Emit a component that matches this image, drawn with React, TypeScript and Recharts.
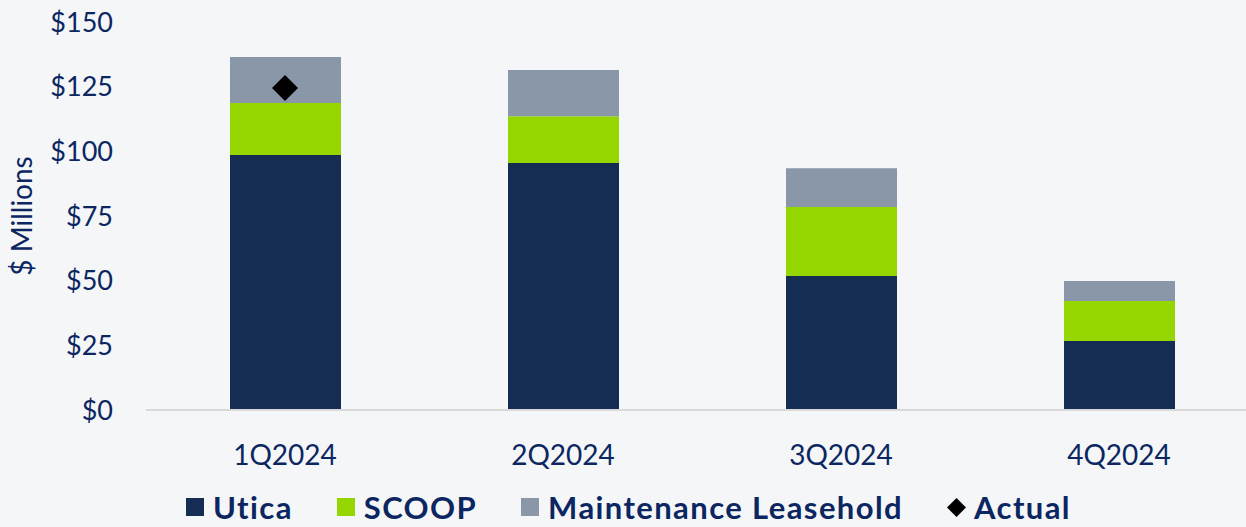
import React from 'react';
import { ComposedChart, Bar, Scatter, XAxis, YAxis, Legend, Label } from 'recharts';

const categories = ['1Q2024', '2Q2024', '3Q2024', '4Q2024'];
const utica = [98.6, 95.5, 51.8, 26.7];
const scoop = [20.1, 18.1, 26.7, 15.4];
const maintenance = [17.8, 17.8, 15.0, 7.8];
const actual: (number | null)[] = [124.5, null, null, null];
const yTicks = [0, 25, 50, 75, 100, 125, 150];

const TEXT = '#0b2660';
const FONT = 'Lato, "Open Sans", sans-serif';
const COLORS = { utica: '#152d52', scoop: '#95d600', maintenance: '#8a97a8', actual: '#000000' };

const legendItems = [
  { key: 'utica', label: 'Utica', color: COLORS.utica, shape: 'square' },
  { key: 'scoop', label: 'SCOOP', color: COLORS.scoop, shape: 'square' },
  { key: 'maintenance', label: 'Maintenance Leasehold', color: COLORS.maintenance, shape: 'square' },
  { key: 'actual', label: 'Actual', color: COLORS.actual, shape: 'diamond' },
];

const data = categories.map((c, i) => ({
  name: c,
  utica: utica[i],
  scoop: scoop[i],
  maintenance: maintenance[i],
  actual: actual[i],
}));

const Diamond = (props: any) => {
  const { cx, cy } = props;
  if (cx == null || cy == null || props.payload?.actual == null) return null;
  const r = 13;
  return <polygon points={`${cx},${cy - r} ${cx + r},${cy} ${cx},${cy + r} ${cx - r},${cy}`} fill={COLORS.actual} />;
};

const LegendContent = () => (
  <div style={{ display: 'flex', alignItems: 'center', paddingLeft: 186, fontFamily: FONT, fontWeight: 700, fontSize: 31, letterSpacing: 1.4, color: TEXT, lineHeight: '32px' }}>
    {legendItems.map((it) => (
      <div key={it.key} style={{ display: 'flex', alignItems: 'center', marginRight: 44 }}>
        {it.shape === 'square' ? (
          <div style={{ width: 18, height: 18, background: it.color, marginRight: 9 }} />
        ) : (
          <svg width={19} height={19} style={{ marginRight: 8 }}>
            <polygon points="9.5,0 19,9.5 9.5,19 0,9.5" fill={it.color} />
          </svg>
        )}
        <span>{it.label}</span>
      </div>
    ))}
  </div>
);

export default function App() {
  return (
    <div style={{ position: 'fixed', top: 0, left: 0, width: 1246, height: 527, overflow: 'hidden', background: '#f4f6f8' }}>
      <ComposedChart width={1258} height={527} data={data} margin={{ top: 22, right: 0, left: 0, bottom: 57 }}>
        <XAxis
          dataKey="name"
          height={60}
          axisLine={{ stroke: '#d9d9d9', strokeWidth: 2 }}
          tickLine={false}
          tickSize={0}
          tickMargin={35}
          tick={{ fill: TEXT, fontSize: 28, fontFamily: FONT }}
        />
        <YAxis
          width={146}
          domain={[0, 150]}
          ticks={yTicks}
          axisLine={false}
          tickLine={false}
          tickSize={0}
          tickMargin={33}
          tickFormatter={(v: number) => `$${v}`}
          tick={{ fill: TEXT, fontSize: 27, fontFamily: FONT }}
        >
          <Label value="$ Millions" angle={-90} position="insideLeft" offset={22} style={{ fill: TEXT, fontSize: 28, fontFamily: FONT, textAnchor: 'middle' }} />
        </YAxis>
        <Bar dataKey="utica" stackId="a" fill={COLORS.utica} barSize={111} isAnimationActive={false} />
        <Bar dataKey="scoop" stackId="a" fill={COLORS.scoop} barSize={111} isAnimationActive={false} />
        <Bar dataKey="maintenance" stackId="a" fill={COLORS.maintenance} barSize={111} isAnimationActive={false} />
        <Scatter dataKey="actual" shape={<Diamond />} isAnimationActive={false} />
        <Legend
          layout="horizontal"
          verticalAlign="middle"
          align="center"
          content={<LegendContent />}
          wrapperStyle={{ top: 491, left: 0, width: 1246 }}
        />
      </ComposedChart>
    </div>
  );
}
